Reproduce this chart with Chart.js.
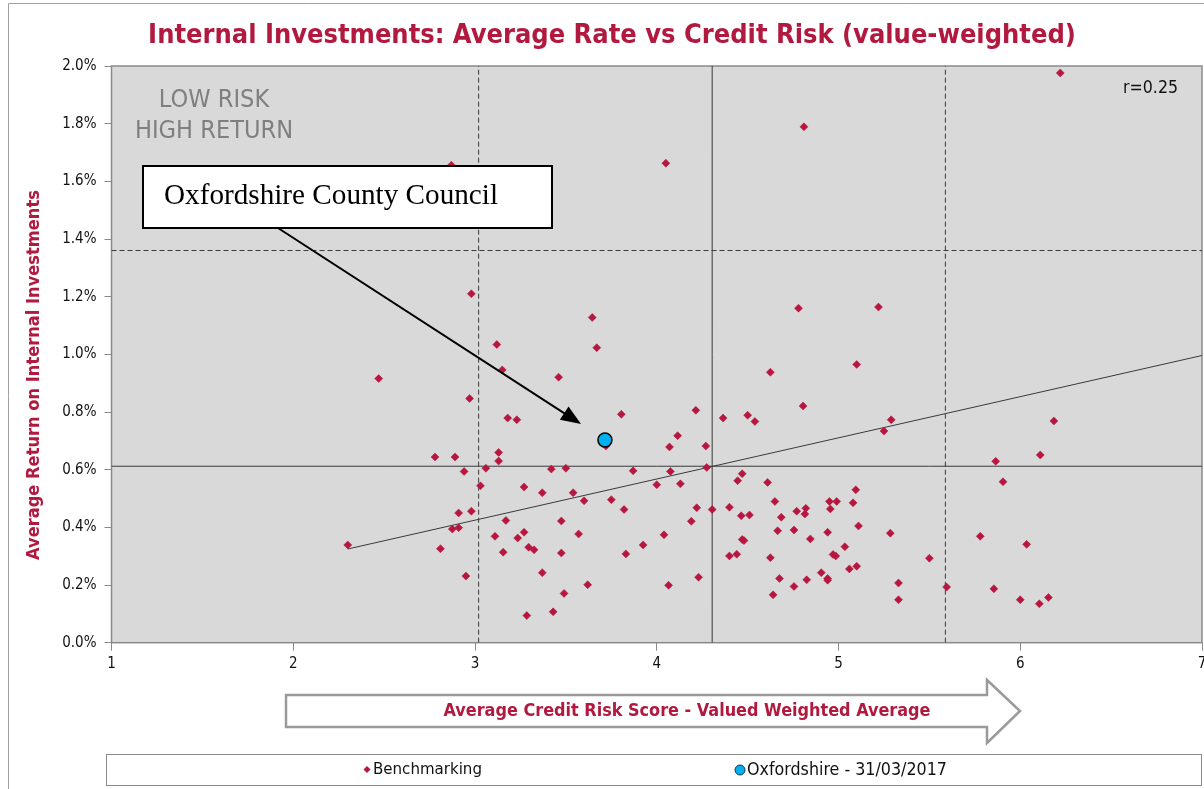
<!DOCTYPE html>
<html>
<head>
<meta charset="utf-8">
<script src="https://cdn.jsdelivr.net/npm/chart.js@4.4.1/dist/chart.umd.min.js"></script>
<style>
  html, body { margin: 0; padding: 0; background: #fff; }
  canvas { display: block; }
</style>
</head>
<body>
<canvas id="myChart" width="1204" height="789"></canvas>
<script>
const ctx = document.getElementById('myChart');

// credit risk score (x) and average return in % (y) for every benchmarking authority
const benchX = [6.22, 4.81, 4.05, 2.87, 2.98, 3.645, 3.12, 3.67, 3.15, 2.47, 3.46, 2.97, 3.18, 3.23, 2.78, 2.89, 3.13, 3.13, 2.94, 3.06,
  3.42, 3.50, 3.72, 3.03, 3.27, 3.37, 3.54, 3.60, 3.75, 2.98, 2.91, 3.17, 3.475, 2.875, 2.91, 3.11, 3.235, 3.27, 3.57, 2.30,
  2.81, 3.295, 3.325, 3.155, 3.475, 3.37, 2.95, 3.62, 3.49, 3.43, 3.285, 4.78, 5.22, 5.10, 4.625, 4.805, 3.805, 4.215, 4.365, 4.50,
  4.54, 5.29, 5.25, 4.115, 4.07, 4.27, 3.87, 4.075, 4.275, 4.47, 4.445, 4.61, 4.00, 4.13, 3.82, 4.22, 4.305, 4.40, 4.65, 5.095,
  4.95, 4.99, 4.955, 5.08, 4.465, 4.51, 4.77, 4.82, 4.815, 4.685, 4.19, 4.04, 4.665, 4.755, 4.94, 5.11, 5.285, 4.845, 4.47, 4.48,
  3.925, 5.035, 3.83, 4.40, 4.44, 4.625, 4.97, 4.985, 5.50, 4.23, 4.065, 4.675, 4.755, 4.825, 4.905, 4.94, 4.94, 5.06, 5.10, 4.64,
  5.33, 5.33, 6.185, 6.11, 5.865, 5.905, 5.78, 6.035, 5.595, 5.855, 6.00, 6.105, 6.155];
const benchY = [1.976, 1.789, 1.663, 1.656, 1.210, 1.128, 1.034, 1.023, 0.946, 0.916, 0.921, 0.847, 0.779, 0.773, 0.644, 0.644, 0.660, 0.630, 0.594, 0.605,
  0.602, 0.605, 0.682, 0.544, 0.540, 0.520, 0.520, 0.492, 0.496, 0.456, 0.450, 0.424, 0.422, 0.394, 0.399, 0.369, 0.363, 0.383, 0.377, 0.339,
  0.326, 0.331, 0.322, 0.314, 0.311, 0.243, 0.231, 0.201, 0.171, 0.107, 0.094, 1.160, 1.164, 0.965, 0.938, 0.821, 0.792, 0.806, 0.779, 0.789,
  0.767, 0.773, 0.734, 0.718, 0.679, 0.682, 0.596, 0.594, 0.608, 0.586, 0.562, 0.556, 0.548, 0.551, 0.462, 0.468, 0.462, 0.470, 0.490, 0.530,
  0.490, 0.490, 0.464, 0.485, 0.440, 0.443, 0.456, 0.466, 0.446, 0.435, 0.421, 0.374, 0.388, 0.391, 0.383, 0.405, 0.380, 0.360, 0.358, 0.354,
  0.339, 0.333, 0.308, 0.301, 0.307, 0.295, 0.306, 0.301, 0.293, 0.227, 0.199, 0.223, 0.195, 0.218, 0.243, 0.223, 0.217, 0.256, 0.265, 0.166,
  0.207, 0.149, 0.769, 0.651, 0.629, 0.558, 0.369, 0.341, 0.193, 0.187, 0.149, 0.135, 0.157];

const oxX = [3.715];
const oxY = [0.703];

// average lines (solid) and +/- one deviation (dashed)
const meanX = 4.305;
const meanY = 0.612;
const bandX = [3.02, 5.588];
const bandY = [1.36];

// linear trend
const trendX = [2.30, 7.0];
const trendY = [0.325, 0.996];

const xMin = 1, xMax = 7, xStep = 1;
const yMin = 0, yMax = 2, yStep = 0.2;

const legendLabels = ['Benchmarking', 'Oxfordshire - 31/03/2017'];

const RED = '#B7163F';
const BLUE = '#00B0F0';
const SANS = "'DejaVu Sans Condensed', 'DejaVu Sans', sans-serif";

function pts(xs, ys) {
  return xs.map((x, i) => ({ x: x, y: ys[i] }));
}

function refLine(data, dashed) {
  return {
    type: 'line',
    data: data,
    showLine: true,
    borderColor: '#3a3a3a',
    borderWidth: 1,
    borderDash: dashed ? [5, 3] : [],
    pointRadius: 0,
    order: 5
  };
}

// sets ctx.font so that text fills the given width
function fitText(c, text, width, weight, family) {
  c.font = weight + ' 100px ' + family;
  let size = 100 * width / c.measureText(text).width;
  c.font = weight + ' ' + size.toFixed(2) + 'px ' + family;
  return size;
}

const datasets = [
  {
    label: legendLabels[1],
    data: pts(oxX, oxY),
    pointStyle: 'circle',
    pointRadius: 7,
    backgroundColor: BLUE,
    borderColor: '#000',
    borderWidth: 1.5,
    order: 0
  },
  {
    label: legendLabels[0],
    data: pts(benchX, benchY),
    pointStyle: 'rectRot',
    pointRadius: 4,
    backgroundColor: RED,
    borderColor: RED,
    borderWidth: 0.5,
    order: 1
  },
  refLine([{ x: meanX, y: yMin }, { x: meanX, y: yMax }], false),
  refLine([{ x: xMin, y: meanY }, { x: xMax, y: meanY }], false),
  refLine([{ x: trendX[0], y: trendY[0] }, { x: trendX[1], y: trendY[1] }], false)
];
bandX.forEach(v => datasets.push(refLine([{ x: v, y: yMin }, { x: v, y: yMax }], true)));
bandY.forEach(v => datasets.push(refLine([{ x: xMin, y: v }, { x: xMax, y: v }], true)));

const plotBack = {
  id: 'plotBack',
  beforeDraw(chart) {
    const c = chart.ctx, a = chart.chartArea;
    c.save();
    c.fillStyle = '#fff';
    c.fillRect(0, 0, chart.width, chart.height);
    c.fillStyle = '#D9D9D9';
    c.fillRect(a.left, a.top, a.right - a.left, a.bottom - a.top);
    c.restore();
  },
  beforeDatasetsDraw(chart) {
    const c = chart.ctx, a = chart.chartArea;
    c.save();
    c.strokeStyle = '#8a8a8a';
    c.lineWidth = 1.5;
    c.strokeRect(a.left, a.top, a.right - a.left, a.bottom - a.top);
    c.restore();
  }
};

const decor = {
  id: 'decor',
  afterDraw(chart) {
    const c = chart.ctx;
    c.save();

    // outer frame
    c.strokeStyle = '#a0a0a0';
    c.lineWidth = 1;
    c.beginPath();
    c.moveTo(1204, 3.5);
    c.lineTo(8.5, 3.5);
    c.lineTo(8.5, 789);
    c.stroke();

    // title
    c.fillStyle = '#B2193F';
    c.textBaseline = 'alphabetic';
    c.textAlign = 'center';
    fitText(c, 'Internal Investments: Average Rate vs Credit Risk (value-weighted)', 928, 'bold', SANS);
    c.fillText('Internal Investments: Average Rate vs Credit Risk (value-weighted)', 612, 43);

    // y axis title
    c.save();
    c.translate(39, 375);
    c.rotate(-Math.PI / 2);
    fitText(c, 'Average Return on Internal Investments', 370, 'bold', SANS);
    c.fillText('Average Return on Internal Investments', 0, 0);
    c.restore();

    // x axis title inside an outline arrow
    c.beginPath();
    c.moveTo(286, 695);
    c.lineTo(987, 695);
    c.lineTo(987, 680);
    c.lineTo(1020, 711);
    c.lineTo(987, 743);
    c.lineTo(987, 727);
    c.lineTo(286, 727);
    c.closePath();
    c.fillStyle = '#fff';
    c.fill();
    c.strokeStyle = '#9a9a9a';
    c.lineWidth = 2.5;
    c.stroke();
    c.fillStyle = '#B2193F';
    fitText(c, 'Average Credit Risk Score - Valued Weighted Average', 487, 'bold', SANS);
    c.fillText('Average Credit Risk Score - Valued Weighted Average', 687, 716);

    // quadrant label
    c.fillStyle = '#7F7F7F';
    fitText(c, 'HIGH RETURN', 158, 'normal', SANS);
    c.fillText('LOW RISK', 214, 107);
    c.fillText('HIGH RETURN', 214, 138);

    // correlation
    c.fillStyle = '#111';
    c.textAlign = 'right';
    fitText(c, 'r=0.25', 55, 'normal', SANS);
    c.fillText('r=0.25', 1178, 93);

    // callout box and arrow
    c.fillStyle = '#fff';
    c.fillRect(143, 166, 409, 62);
    c.strokeStyle = '#000';
    c.lineWidth = 2;
    c.strokeRect(143, 166, 409, 62);
    c.fillStyle = '#000';
    c.textAlign = 'left';
    fitText(c, 'Oxfordshire County Council', 334, 'normal', "'Liberation Serif', serif");
    c.fillText('Oxfordshire County Council', 164, 204);

    const x0 = 278, y0 = 228, x1 = 581, y1 = 424;
    const ang = Math.atan2(y1 - y0, x1 - x0);
    c.beginPath();
    c.moveTo(x0, y0);
    c.lineTo(x1 - 16 * Math.cos(ang), y1 - 16 * Math.sin(ang));
    c.lineWidth = 2;
    c.stroke();
    c.beginPath();
    c.moveTo(x1, y1);
    c.lineTo(x1 - 20 * Math.cos(ang) + 8 * Math.sin(ang), y1 - 20 * Math.sin(ang) - 8 * Math.cos(ang));
    c.lineTo(x1 - 20 * Math.cos(ang) - 8 * Math.sin(ang), y1 - 20 * Math.sin(ang) + 8 * Math.cos(ang));
    c.closePath();
    c.fill();

    // legend
    c.strokeStyle = '#8a8a8a';
    c.lineWidth = 1;
    c.strokeRect(106.5, 754.5, 1095, 31);
    c.fillStyle = RED;
    c.beginPath();
    c.moveTo(367, 766);
    c.lineTo(370.5, 769.5);
    c.lineTo(367, 773);
    c.lineTo(363.5, 769.5);
    c.closePath();
    c.fill();
    c.beginPath();
    c.arc(740, 770, 5, 0, Math.PI * 2);
    c.fillStyle = BLUE;
    c.fill();
    c.strokeStyle = '#1a3a4a';
    c.stroke();
    c.fillStyle = '#111';
    c.textBaseline = 'middle';
    fitText(c, legendLabels[0], 109, 'normal', SANS);
    c.fillText(legendLabels[0], 373, 770);
    fitText(c, legendLabels[1], 200, 'normal', SANS);
    c.fillText(legendLabels[1], 747, 770);

    c.restore();
  }
};

new Chart(ctx, {
  type: 'scatter',
  data: { datasets: datasets },
  options: {
    responsive: false,
    animation: false,
    layout: {
      autoPadding: false,
      padding: { top: 66, right: 2, left: 0, bottom: 0 }
    },
    scales: {
      x: {
        type: 'linear',
        min: xMin,
        max: xMax,
        ticks: {
          stepSize: xStep,
          padding: 4,
          color: '#111',
          font: { family: SANS, size: 15 }
        },
        grid: { drawOnChartArea: false, tickLength: 8, color: '#8a8a8a' },
        border: { display: false },
        afterFit(scale) {
          scale.height = 146.3;
          scale.paddingLeft = 0;
          scale.paddingRight = 0;
        }
      },
      y: {
        min: yMin,
        max: yMax,
        ticks: {
          stepSize: yStep,
          padding: 8,
          color: '#111',
          font: { family: SANS, size: 15 },
          callback: v => v.toFixed(1) + '%'
        },
        grid: { drawOnChartArea: false, tickLength: 7, color: '#8a8a8a' },
        border: { display: false },
        afterFit(scale) {
          scale.width = 111.5;
          scale.paddingTop = 0;
          scale.paddingBottom = 0;
        }
      }
    },
    plugins: {
      legend: { display: false },
      tooltip: { enabled: false }
    }
  },
  plugins: [plotBack, decor]
});
</script>
</body>
</html>
